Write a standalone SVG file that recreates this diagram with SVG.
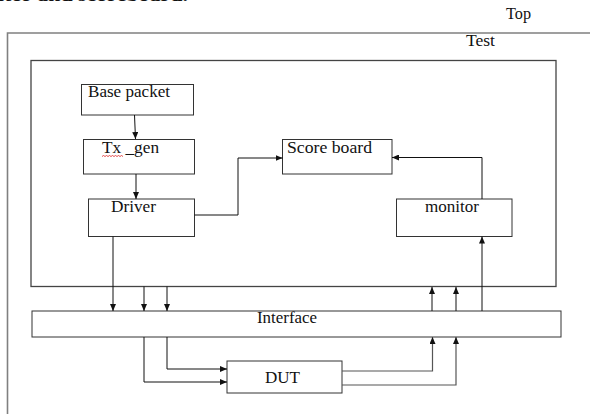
<svg xmlns="http://www.w3.org/2000/svg" width="590" height="414" viewBox="0 0 590 414">
<style>
text{font-family:"Liberation Serif","Times New Roman",serif;font-size:16px;fill:#111}
.box{fill:#fff;stroke:#333;stroke-width:1}
.frame{fill:none;stroke:#808080;stroke-width:1.6}
.inner{fill:none;stroke:#444;stroke-width:1.3}
.c{fill:none;stroke:#111;stroke-width:1}
.cg{fill:none;stroke:#555;stroke-width:1.2}
</style>
<defs>
<marker id="ah" markerUnits="userSpaceOnUse" markerWidth="7" markerHeight="6" refX="7" refY="3" orient="auto">
<path d="M0,0 L7,3 L0,6 z" fill="#111"/>
</marker>
</defs>
<rect width="590" height="414" fill="#fff"/>
<text x="-2" y="1" style="font-size:18px;font-weight:bold" textLength="190" lengthAdjust="spacingAndGlyphs">itor and scoreboard.</text>
<g id="top">
<path class="frame" d="M590 33 H7.5 V414"/>
<text x="506" y="19" textLength="25" lengthAdjust="spacingAndGlyphs">Top</text>
</g>
<g id="test">
<rect class="inner" x="31" y="60.5" width="525" height="226"/>
<text x="466" y="46" textLength="29" lengthAdjust="spacingAndGlyphs">Test</text>
</g>
<g id="base-packet">
<rect class="box" x="81.5" y="84.5" width="112" height="30.5"/>
<text x="88" y="97" textLength="82" lengthAdjust="spacingAndGlyphs">Base packet</text>
</g>
<g id="tx-gen">
<rect class="box" x="83.5" y="139.5" width="111" height="34.5"/>
<text x="102" y="153" textLength="57" lengthAdjust="spacingAndGlyphs">Tx _gen</text>
<path d="M102 156.5 l1.5 -1 l1.5 1 l1.5 -1 l1.5 1 l1.5 -1 l1.5 1 l1.5 -1 l1.5 1 l1.5 -1 l1.5 1 l1.5 -1 l1.5 1 l1.5 -1 l1.5 1" fill="none" stroke="#d22" stroke-width="0.8"/>
</g>
<g id="driver">
<rect class="box" x="88.5" y="199" width="106" height="37.5"/>
<text x="111" y="212" textLength="45" lengthAdjust="spacingAndGlyphs">Driver</text>
</g>
<g id="score-board">
<rect class="box" x="282.5" y="139.5" width="109.5" height="34.5"/>
<text x="287" y="153" textLength="85" lengthAdjust="spacingAndGlyphs">Score board</text>
</g>
<g id="monitor">
<rect class="box" x="396.5" y="199" width="115.5" height="37.5"/>
<text x="425" y="212" textLength="54" lengthAdjust="spacingAndGlyphs">monitor</text>
</g>
<g id="interface">
<rect class="box" x="32" y="311" width="529" height="26"/>
<text x="257" y="323" textLength="60" lengthAdjust="spacingAndGlyphs">Interface</text>
</g>
<g id="dut">
<rect class="box" x="227" y="361" width="115" height="32"/>
<text x="265" y="383" textLength="35" lengthAdjust="spacingAndGlyphs">DUT</text>
</g>
<g id="connectors">
<path class="c" d="M134.5 115 L135.5 139" marker-end="url(#ah)"/>
<path class="c" d="M136 174 V199" marker-end="url(#ah)"/>
<path class="c" d="M194.5 215 H238 V158 H282.5" marker-end="url(#ah)"/>
<path class="c" d="M482 199 V157.5 H392" marker-end="url(#ah)"/>
<path class="c" d="M482 311 V236.5" marker-end="url(#ah)"/>
<path class="c" d="M113 236.5 V311" marker-end="url(#ah)"/>
<path class="c" d="M144 286.5 V311" marker-end="url(#ah)"/>
<path class="c" d="M167 286.5 V311" marker-end="url(#ah)"/>
<path class="c" d="M432 311 V287" marker-end="url(#ah)"/>
<path class="c" d="M456 311 V287" marker-end="url(#ah)"/>
<path class="c" d="M144 337 V382 H227" marker-end="url(#ah)"/>
<path class="c" d="M167 337 V369 H227" marker-end="url(#ah)"/>
<path class="cg" d="M342 371 H432.5 V337" marker-end="url(#ah)"/>
<path class="cg" d="M342 385 H456 V337" marker-end="url(#ah)"/>
</g>
</svg>
